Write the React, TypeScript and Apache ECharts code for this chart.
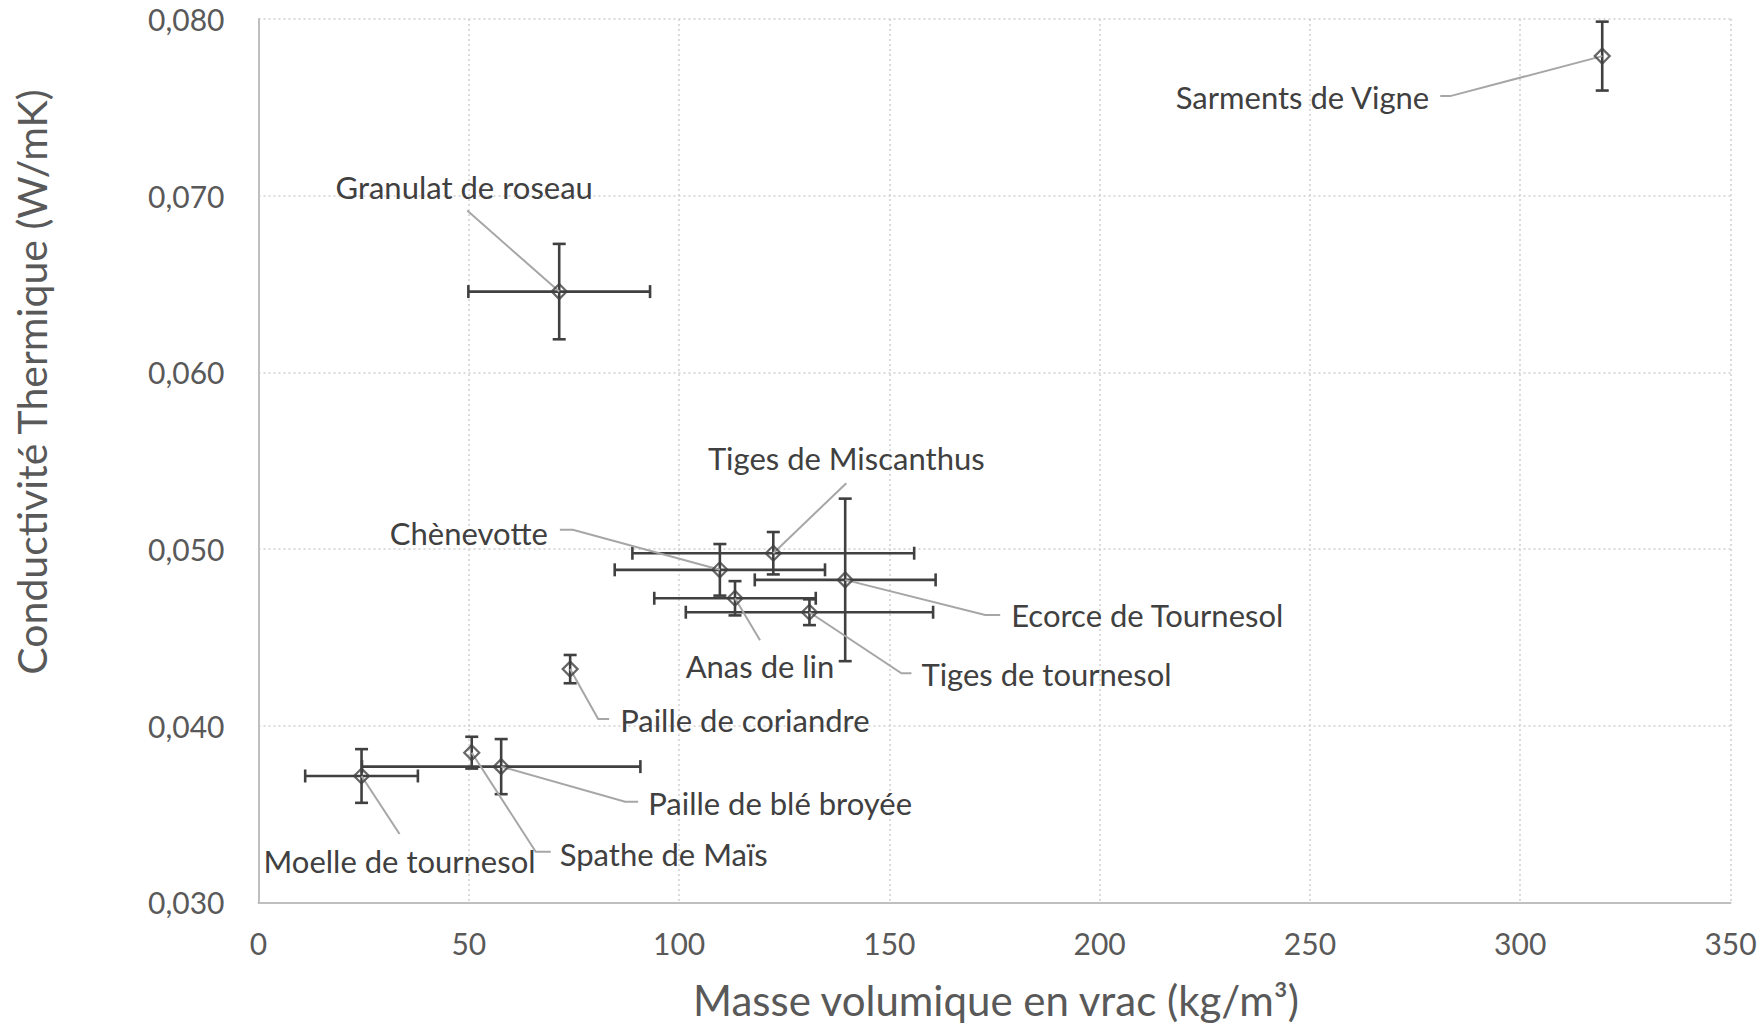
import React, { useEffect, useRef } from "react";
import * as echarts from "echarts";

// ---- data ----
const materials = [
  "Sarments de Vigne",
  "Granulat de roseau",
  "Tiges de Miscanthus",
  "Chènevotte",
  "Ecorce de Tournesol",
  "Anas de lin",
  "Tiges de tournesol",
  "Paille de coriandre",
  "Spathe de Maïs",
  "Paille de blé broyée",
  "Moelle de tournesol",
];
const bulkDensity = [319.5, 71.5, 122.4, 109.7, 139.5, 113.3, 131.0, 74.1, 50.7, 57.7, 24.5];
const conductivity = [0.0779, 0.06457, 0.04976, 0.04882, 0.04825, 0.04721, 0.04642, 0.0432, 0.03847, 0.03768, 0.03715];
const densityError = [0, 21.6, 33.5, 25, 21.5, 19.2, 29.4, 0, 0, 33.1, 13.4];
const conductivityError = [0.00195, 0.0027, 0.0012, 0.00146, 0.0046, 0.00097, 0.00073, 0.0008, 0.0009, 0.00156, 0.00152];
const xTicks = { min: 0, max: 350, interval: 50 };
const yTicks = { min: 0.03, max: 0.08, interval: 0.01 };

// ---- label layout (pixel offsets from each point) ----
type LabelLayout = { align: "left" | "right" | "center"; dx: number; dy: number; line: number[][] };
const labelLayout: LabelLayout[] = [
  { align: "right", dx: -173, dy: 41, line: [[-162, 40], [-152, 40]] },
  { align: "center", dx: -95, dy: -105, line: [[-92, -81]] },
  { align: "center", dx: 73, dy: -95, line: [[73, -70]] },
  { align: "right", dx: -172, dy: -37, line: [[-160, -40], [-147, -40]] },
  { align: "left", dx: 166, dy: 35, line: [[155, 35], [140, 35]] },
  { align: "center", dx: 25, dy: 68, line: [[25, 42]] },
  { align: "left", dx: 112, dy: 62, line: [[102, 61], [92, 61]] },
  { align: "left", dx: 50, dy: 51, line: [[39, 50], [28, 50]] },
  { align: "left", dx: 88, dy: 101, line: [[79, 99], [64, 99]] },
  { align: "left", dx: 147, dy: 36, line: [[137, 35], [124, 35]] },
  { align: "center", dx: 38, dy: 85, line: [[38, 58]] },
];

const FONT = "Lato, 'Open Sans', sans-serif";
const TEXT = "#595959";
const BAR = "#404040";

export default function App() {
  const ref = useRef<HTMLDivElement>(null);
  useEffect(() => {
    document.body.style.margin = "0";
    const chart = echarts.init(ref.current!, null, { renderer: "svg" });
    const pts = materials.map((_, i) => [bulkDensity[i], conductivity[i], densityError[i], conductivityError[i]]);
    const cap = 6.5;
    chart.setOption({
      animation: false,
      backgroundColor: "#ffffff",
      grid: { left: 258.5, right: 31.5, top: 19, bottom: 122.7, containLabel: false, outerBoundsMode: "none" },
      xAxis: {
        type: "value",
        min: xTicks.min,
        max: xTicks.max,
        interval: xTicks.interval,
        axisLine: { show: true, onZero: false, lineStyle: { color: "#BFBFBF", width: 2 } },
        axisTick: { show: false },
        axisLabel: { color: TEXT, fontSize: 30, fontFamily: FONT, margin: 26 },
        splitLine: { show: true, lineStyle: { color: "#D0D0D0", type: [2, 3], width: 1.5 } },
      },
      yAxis: {
        type: "value",
        min: yTicks.min,
        max: yTicks.max,
        interval: yTicks.interval,
        axisLine: { show: true, onZero: false, lineStyle: { color: "#BFBFBF", width: 2 } },
        axisTick: { show: false },
        axisLabel: {
          color: TEXT,
          fontSize: 30,
          fontFamily: FONT,
          margin: 34,
          formatter: (v: number) => v.toFixed(3).replace(".", ","),
        },
        splitLine: { show: true, lineStyle: { color: "#D0D0D0", type: [2, 3], width: 1.5 } },
      },
      graphic: [
        {
          type: "text",
          x: 31,
          y: 382,
          rotation: Math.PI / 2,
          style: {
            text: "Conductivité Thermique (W/mK)",
            fill: TEXT,
            font: `41px ${FONT}`,
            align: "center",
            verticalAlign: "middle",
          },
        },
        {
          type: "text",
          x: 996,
          y: 1000,
          style: {
            text: "Masse volumique en vrac (kg/m³)",
            fill: TEXT,
            font: `42px ${FONT}`,
            align: "center",
            verticalAlign: "middle",
          },
        },
      ],
      series: [
        {
          type: "custom",
          name: "errors",
          z: 2,
          clip: false,
          data: pts,
          encode: { x: 0, y: 1 },
          renderItem: (params: any, api: any) => {
            const x = api.value(0);
            const y = api.value(1);
            const xe = api.value(2);
            const ye = api.value(3);
            const c = api.coord([x, y]);
            const style = { stroke: BAR, lineWidth: 2.6 };
            const ch: any[] = [];
            if (xe > 0) {
              const l = api.coord([x - xe, y]);
              const r = api.coord([x + xe, y]);
              ch.push({ type: "line", shape: { x1: l[0], y1: c[1], x2: r[0], y2: c[1] }, style });
              ch.push({ type: "line", shape: { x1: l[0], y1: c[1] - cap, x2: l[0], y2: c[1] + cap }, style });
              ch.push({ type: "line", shape: { x1: r[0], y1: c[1] - cap, x2: r[0], y2: c[1] + cap }, style });
            }
            if (ye > 0) {
              const t = api.coord([x, y + ye]);
              const b = api.coord([x, y - ye]);
              ch.push({ type: "line", shape: { x1: c[0], y1: t[1], x2: c[0], y2: b[1] }, style });
              ch.push({ type: "line", shape: { x1: c[0] - cap, y1: t[1], x2: c[0] + cap, y2: t[1] }, style });
              ch.push({ type: "line", shape: { x1: c[0] - cap, y1: b[1], x2: c[0] + cap, y2: b[1] }, style });
            }
            return { type: "group", children: ch };
          },
        },
        {
          type: "custom",
          name: "labels",
          z: 3,
          clip: false,
          data: pts,
          encode: { x: 0, y: 1 },
          renderItem: (params: any, api: any) => {
            const i = params.dataIndex;
            const lay = labelLayout[i];
            const c = api.coord([api.value(0), api.value(1)]);
            const points = lay.line.map((p) => [c[0] + p[0], c[1] + p[1]]);
            points.push([c[0], c[1]]);
            return {
              type: "group",
              children: [
                {
                  type: "polyline",
                  shape: { points },
                  style: { stroke: "#A6A6A6", lineWidth: 2, fill: "none" },
                },
                {
                  type: "text",
                  x: c[0] + lay.dx,
                  y: c[1] + lay.dy,
                  style: {
                    text: materials[i],
                    fill: BAR,
                    font: `31px ${FONT}`,
                    align: lay.align,
                    verticalAlign: "middle",
                  },
                },
              ],
            };
          },
        },
        {
          type: "scatter",
          name: "points",
          z: 4,
          data: pts.map((p) => [p[0], p[1]]),
          symbol: "diamond",
          symbolSize: 15,
          itemStyle: { color: "rgba(255,255,255,0)", borderColor: BAR, borderWidth: 2.2 },
        },
      ],
    });
    return () => chart.dispose();
  }, []);
  return <div ref={ref} style={{ width: 1762, height: 1025 }} />;
}
